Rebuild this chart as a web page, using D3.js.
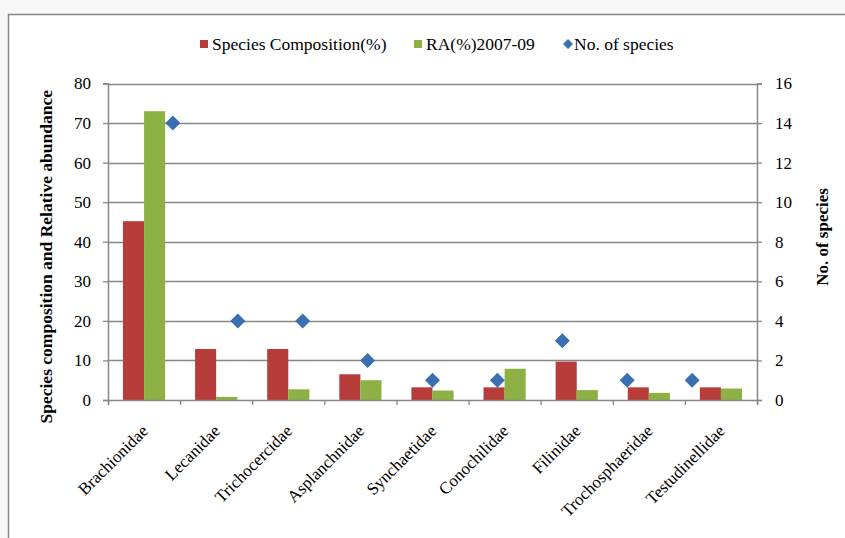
<!DOCTYPE html>
<html>
<head>
<meta charset="utf-8">
<script src="https://cdn.jsdelivr.net/npm/d3@7"></script>
<style>
  body { margin: 0; background: #f8f8f8; }
  svg { display: block; font-family: "Liberation Serif", "Times New Roman", serif; }
  .axis text { font-family: "Liberation Serif", "Times New Roman", serif; }
</style>
</head>
<body>
<svg id="chart" width="845" height="538"></svg>
<script>
// data
const families = ["Brachionidae", "Lecanidae", "Trichocercidae", "Asplanchnidae", "Synchaetidae",
                  "Conochilidae", "Filinidae", "Trochosphaeridae", "Testudinellidae"]
const speciesComposition = [45.2, 12.9, 12.9, 6.5, 3.2, 3.2, 9.7, 3.2, 3.2]
const relAbundance = [73, 0.8, 2.7, 5, 2.4, 7.9, 2.5, 1.8, 2.9]
const noOfSpecies = [14, 4, 4, 2, 1, 1, 3, 1, 1]
const leftTicks = [0, 10, 20, 30, 40, 50, 60, 70, 80]
const rightTicks = [0, 2, 4, 6, 8, 10, 12, 14, 16]

const colors = { red: "#b83c3a", green: "#8db145", blue: "#3a70b2", grid: "#878787" }
const serif = "Liberation Serif, Times New Roman, serif"

const svg = d3.select("#chart")
const margin = { left: 108, right: 88, top: 83.5, bottom: 138 }
const width = 845, height = 538
const x0 = margin.left, x1 = width - margin.right
const y0 = height - margin.bottom, y1 = margin.top

// chart frame
svg.append("rect")
  .attr("x", 8.5).attr("y", 14.5)
  .attr("width", 900).attr("height", 600)
  .attr("fill", "#fff").attr("stroke", "#868686").attr("stroke-width", 1.5)

const xBand = d3.scaleBand().domain(families).range([x0, x1])
const xSub = d3.scaleBand().domain(["sc", "ra"]).range([0, xBand.bandwidth()]).paddingOuter(0.71)
// the diamond series sits on its own 0..10 axis
const xScatter = d3.scaleLinear().domain([0, 10]).range([x0, x1])
const yLeft = d3.scaleLinear().domain([0, 80]).range([y0, y1])
const yRight = d3.scaleLinear().domain([0, 16]).range([y0, y1])

// gridlines
svg.append("g").selectAll("line")
  .data(leftTicks.slice(1))
  .join("line")
    .attr("x1", x0).attr("x2", x1)
    .attr("y1", d => Math.round(yLeft(d)) + 0.5).attr("y2", d => Math.round(yLeft(d)) + 0.5)
    .attr("stroke", colors.grid).attr("stroke-width", 1.3)

// bars
const groups = svg.append("g").selectAll("g")
  .data(families)
  .join("g")
    .attr("transform", d => `translate(${xBand(d)},0)`)

groups.append("rect")
  .attr("x", xSub("sc")).attr("width", xSub.bandwidth())
  .attr("y", (d, i) => yLeft(speciesComposition[i]))
  .attr("height", (d, i) => y0 - yLeft(speciesComposition[i]))
  .attr("fill", colors.red)

groups.append("rect")
  .attr("x", xSub("ra")).attr("width", xSub.bandwidth())
  .attr("y", (d, i) => yLeft(relAbundance[i]))
  .attr("height", (d, i) => y0 - yLeft(relAbundance[i]))
  .attr("fill", colors.green)

// axes
const leftAxis = svg.append("g")
  .attr("transform", `translate(${x0},0)`)
  .call(d3.axisLeft(yLeft).tickValues(leftTicks).tickSize(5).tickPadding(12))
const rightAxis = svg.append("g")
  .attr("transform", `translate(${x1},0)`)
  .call(d3.axisRight(yRight).tickValues(rightTicks).tickSize(5).tickPadding(13))
const bottomAxis = svg.append("g")
  .attr("transform", `translate(0,${y0})`)
  .call(d3.axisBottom(d3.scaleLinear().domain([0, 9]).range([x0, x1]))
    .tickValues(d3.range(10)).tickSize(5).tickFormat(""))

for (const ax of [leftAxis, rightAxis, bottomAxis]) {
  ax.attr("class", "axis").attr("font-family", serif).attr("font-size", 17)
  ax.select(".domain").attr("stroke", colors.grid).attr("stroke-width", 1.5)
  ax.selectAll(".tick line").attr("stroke", colors.grid).attr("stroke-width", 1.3)
  ax.selectAll("text").attr("fill", "#000")
}

// diamonds
const diamond = r => `M0,${-r}L${r},0L0,${r}L${-r},0Z`
svg.append("g").selectAll("path")
  .data(noOfSpecies)
  .join("path")
    .attr("d", diamond(7.5))
    .attr("transform", (d, i) => `translate(${xScatter(i + 1)},${yRight(d)})`)
    .attr("fill", colors.blue)

// category labels
svg.append("g").selectAll("text")
  .data(families)
  .join("text")
    .attr("transform", d => `translate(${xBand(d) + xBand.bandwidth() / 2 + 5},${y0 + 32}) rotate(-45)`)
    .attr("text-anchor", "end")
    .attr("font-size", 17)
    .text(d => d)

// axis titles
svg.append("text")
  .attr("transform", `translate(52,${(y0 + y1) / 2 + 15}) rotate(-90)`)
  .attr("text-anchor", "middle")
  .attr("font-size", 17.5).attr("font-weight", "bold")
  .text("Species composition and Relative abundance")

svg.append("text")
  .attr("transform", `translate(828,237) rotate(-90)`)
  .attr("text-anchor", "middle")
  .attr("font-size", 17).attr("font-weight", "bold")
  .text("No. of species")

// legend
const legendItems = [
  { label: "Species Composition(%)", color: colors.red, x: 200, shape: "square" },
  { label: "RA(%)2007-09", color: colors.green, x: 414, shape: "square" },
  { label: "No. of species", color: colors.blue, x: 565, shape: "diamond" }
]
const legend = svg.append("g").selectAll("g")
  .data(legendItems)
  .join("g")
    .attr("transform", d => `translate(${d.x},44)`)
legend.filter(d => d.shape === "square").append("rect")
  .attr("x", 0).attr("y", -4).attr("width", 8).attr("height", 8)
  .attr("fill", d => d.color)
legend.filter(d => d.shape === "diamond").append("path")
  .attr("d", diamond(5)).attr("transform", "translate(3,0)")
  .attr("fill", d => d.color)
legend.append("text")
  .attr("x", d => d.shape === "square" ? 12 : 9).attr("y", 6)
  .attr("font-size", 17.5)
  .text(d => d.label)
</script>
</body>
</html>
